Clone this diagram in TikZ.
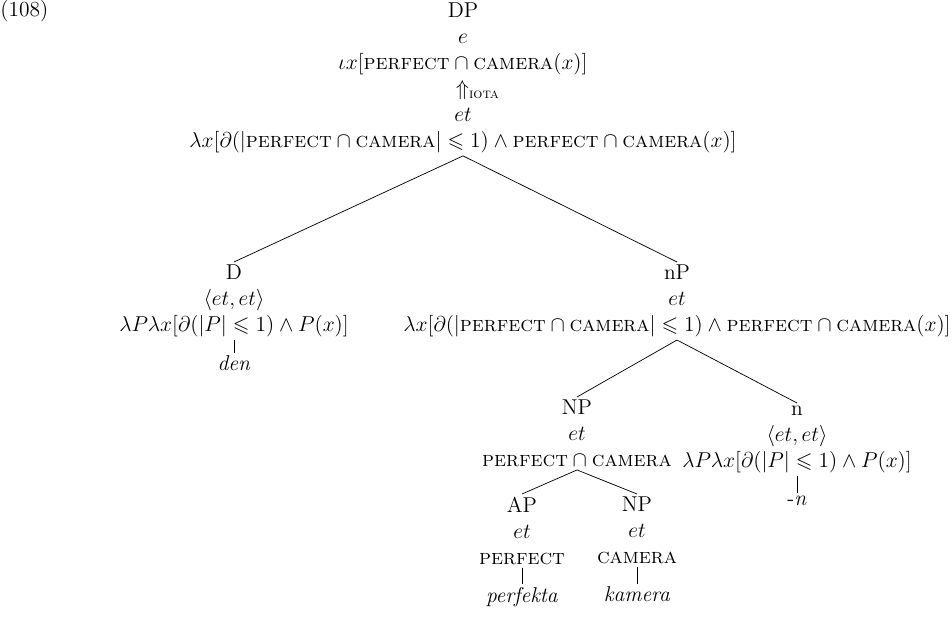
\documentclass[tikz,border=0pt,12pt]{standalone}
\usepackage{amsmath}
\usepackage{amssymb}
\usepackage{mathtools}
\usepackage{tikz}

\newcommand{\perf}{\textsc{perfect}}
\newcommand{\cam}{\textsc{camera}}

\begin{document}
\begin{tikzpicture}[x=0.5587pt,y=-0.5587pt]
	\useasboundingbox (0,0) rectangle (952,637);
	\node[anchor=base west,inner sep=0pt] (ex) at (0,17) {(108)};

	\begin{scope}[every node/.style={align=center,anchor=north,inner sep=1.5pt}]
		\node (DP) at (463,0) {DP\\ $e$\\ $\iota x[\perf\cap\cam(x)]$\\ $\Uparrow_{\mathrlap{\textsc{iota}}}$\\ $et$\\ $\lambda x[\partial(|\perf\cap\cam|\leqslant 1)\wedge\perf\cap\cam(x)]$};
		\node (D) at (234,262) {D\\ $\langle et,et\rangle$\\ $\lambda P\lambda x[\partial(|P|\leqslant 1)\wedge P(x)]$};
		\node (nP) at (677,262) {nP\\ $et$\\ $\lambda x[\partial(|\perf\cap\cam|\leqslant 1)\wedge\perf\cap\cam(x)]$};
		\node (NP) at (577,397) {NP\\ $et$\\ $\perf\cap\cam$};
		\node (n) at (797,403) {n\\ $\langle et,et\rangle$\\ $\lambda P\lambda x[\partial(|P|\leqslant 1)\wedge P(x)]$};
		\node (AP) at (522,494) {AP\\ $et$\\ \perf};
		\node (NPb) at (637,494) {NP\\ $et$\\ \cam};
		\node (den) at (234,353) {\textit{den}};
		\node (suf) at (797,493) {-\textit{n}};
		\node (perfekta) at (522,584) {\textit{perfekta}};
		\node (kamera) at (637,584) {\textit{kamera}};
	\end{scope}

	\begin{scope}[every edge/.style={draw=black,thin}]
		\path [-] (DP.south) edge (D.north);
		\path [-] (DP.south) edge (nP.north);
		\path [-] (nP.south) edge (NP.north);
		\path [-] (nP.south) edge (n.north);
		\path [-] (NP.south) edge (AP.north);
		\path [-] (NP.south) edge (NPb.north);
		\path [-] (D) edge (den);
		\path [-] (n) edge (suf);
		\path [-] (AP) edge (perfekta);
		\path [-] (NPb) edge (kamera);
	\end{scope}
\end{tikzpicture}
\end{document}
